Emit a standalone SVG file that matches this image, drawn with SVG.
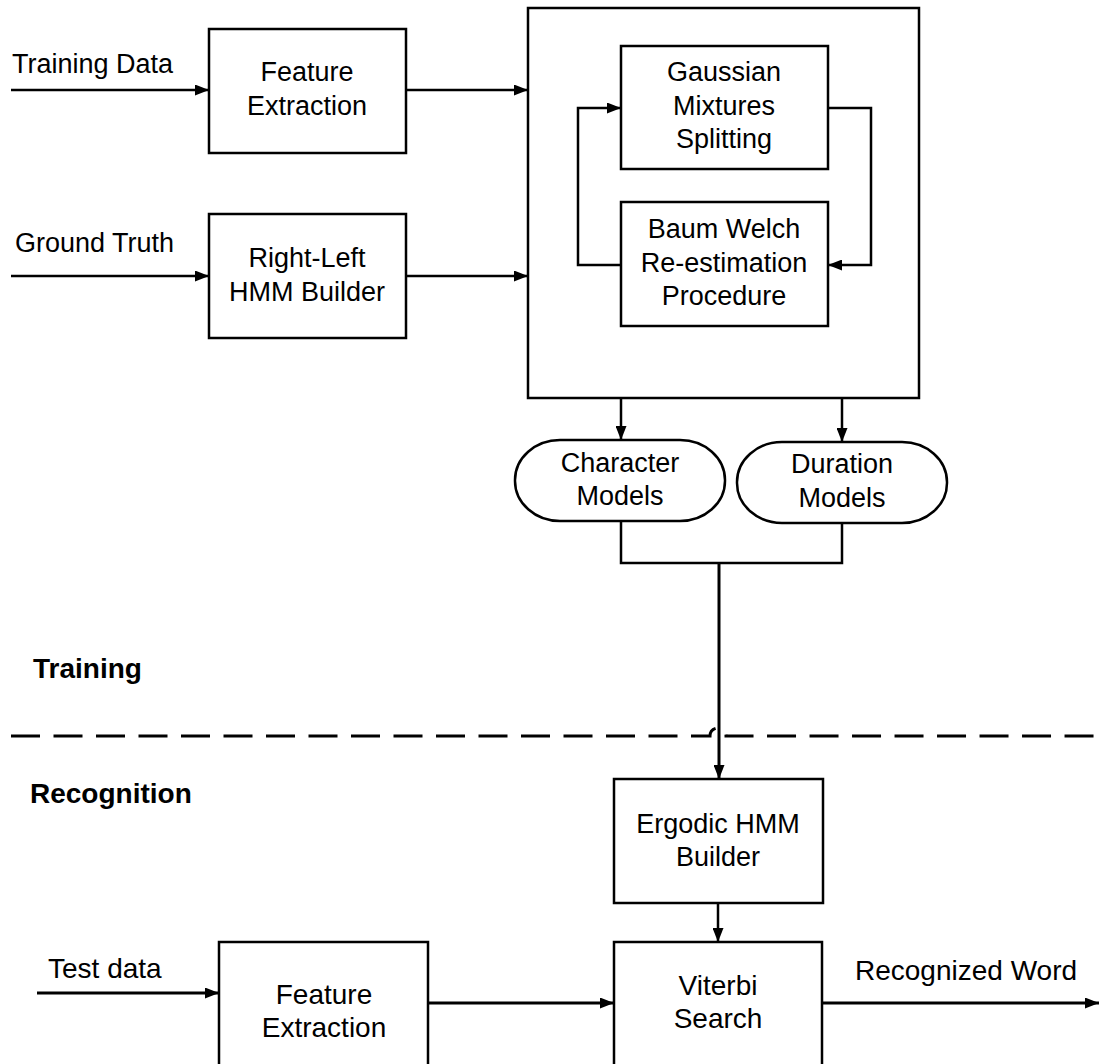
<svg xmlns="http://www.w3.org/2000/svg" width="1099" height="1064" viewBox="0 0 1099 1064">
<style>
.box{fill:#fff;stroke:#000;stroke-width:2.5}
.t{font-family:"Liberation Sans",Arial,sans-serif;font-size:27px;fill:#000}
.tc{text-anchor:middle}
.b{font-weight:bold;font-size:28px}
.big{font-size:28px}
.ln{fill:none;stroke:#000;stroke-width:2.5}
.lnt{fill:none;stroke:#000;stroke-width:3}
</style>
<defs>
<marker id="ah" viewBox="0 0 14 11" refX="14" refY="5.5" markerWidth="14" markerHeight="11" markerUnits="userSpaceOnUse" orient="auto">
<path d="M0,0 L14,5.5 L0,11 z" fill="#000"/>
</marker>
</defs>
<rect width="1099" height="1064" fill="#fff"/>

<g id="training-container"><rect class="box" x="528" y="8" width="391" height="390"/></g>

<g id="feature-extraction-top">
<rect class="box" x="209" y="29" width="197" height="124"/>
<text class="t tc" x="307" y="81">Feature</text>
<text class="t tc" x="307" y="115">Extraction</text>
</g>
<g id="right-left-hmm">
<rect class="box" x="209" y="214" width="197" height="124"/>
<text class="t tc" x="307" y="267">Right-Left</text>
<text class="t tc" x="307" y="301">HMM Builder</text>
</g>
<g id="gaussian">
<rect class="box" x="621" y="46" width="207" height="123"/>
<text class="t tc" x="724" y="81">Gaussian</text>
<text class="t tc" x="724" y="115">Mixtures</text>
<text class="t tc" x="724" y="148">Splitting</text>
</g>
<g id="baum-welch">
<rect class="box" x="621" y="202" width="207" height="124"/>
<text class="t tc" x="724" y="238">Baum Welch</text>
<text class="t tc" x="724" y="272">Re-estimation</text>
<text class="t tc" x="724" y="305">Procedure</text>
</g>
<g id="character-models">
<rect class="box" x="515" y="440" width="210" height="81" rx="45" ry="40"/>
<text class="t tc" x="620" y="472">Character</text>
<text class="t tc" x="620" y="505">Models</text>
</g>
<g id="duration-models">
<rect class="box" x="737" y="442" width="210" height="81" rx="45" ry="40"/>
<text class="t tc" x="842" y="473">Duration</text>
<text class="t tc" x="842" y="507">Models</text>
</g>
<g id="ergodic">
<rect class="box" x="614" y="779" width="209" height="124"/>
<text class="t tc" x="718" y="833">Ergodic HMM</text>
<text class="t tc" x="718" y="866">Builder</text>
</g>
<g id="feature-extraction-bottom">
<rect class="box" x="219" y="942" width="209" height="130"/>
<text class="t tc big" x="324" y="1004">Feature</text>
<text class="t tc big" x="324" y="1037">Extraction</text>
</g>
<g id="viterbi">
<rect class="box" x="614" y="942" width="208" height="130"/>
<text class="t tc big" x="718" y="995">Viterbi</text>
<text class="t tc big" x="718" y="1028">Search</text>
</g>

<g id="labels">
<text class="t" x="12" y="73">Training Data</text>
<text class="t" x="15" y="252">Ground Truth</text>
<text class="t b" x="33" y="678">Training</text>
<text class="t b" x="30" y="803">Recognition</text>
<text class="t big" x="48" y="978">Test data</text>
<text class="t big" x="855" y="980">Recognized Word</text>
</g>

<g id="connectors">
<line class="ln" x1="11" y1="90" x2="209" y2="90" marker-end="url(#ah)"/>
<line class="ln" x1="406" y1="90" x2="528" y2="90" marker-end="url(#ah)"/>
<line class="ln" x1="11" y1="276" x2="209" y2="276" marker-end="url(#ah)"/>
<line class="ln" x1="406" y1="276" x2="528" y2="276" marker-end="url(#ah)"/>
<polyline class="ln" points="828,108 871,108 871,265 828,265" marker-end="url(#ah)"/>
<polyline class="ln" points="621,265 578,265 578,108 621,108" marker-end="url(#ah)"/>
<line class="ln" x1="621" y1="398" x2="621" y2="440" marker-end="url(#ah)"/>
<line class="ln" x1="842" y1="398" x2="842" y2="442" marker-end="url(#ah)"/>
<polyline class="ln" points="621,521 621,563 842,563 842,523"/>
<line class="lnt" x1="719" y1="563" x2="719" y2="779" marker-end="url(#ah)"/>
<path d="M11,736 H710 A8,8 0 0 1 726,736 H1099" fill="none" stroke="#000" stroke-width="3" stroke-dasharray="29 13.5"/>
<line class="ln" x1="718" y1="903" x2="718" y2="942" marker-end="url(#ah)"/>
<line class="lnt" x1="37" y1="993" x2="219" y2="993" marker-end="url(#ah)"/>
<line class="lnt" x1="428" y1="1003" x2="614" y2="1003" marker-end="url(#ah)"/>
<line class="lnt" x1="822" y1="1003" x2="1099" y2="1003" marker-end="url(#ah)"/>
</g>
</svg>
